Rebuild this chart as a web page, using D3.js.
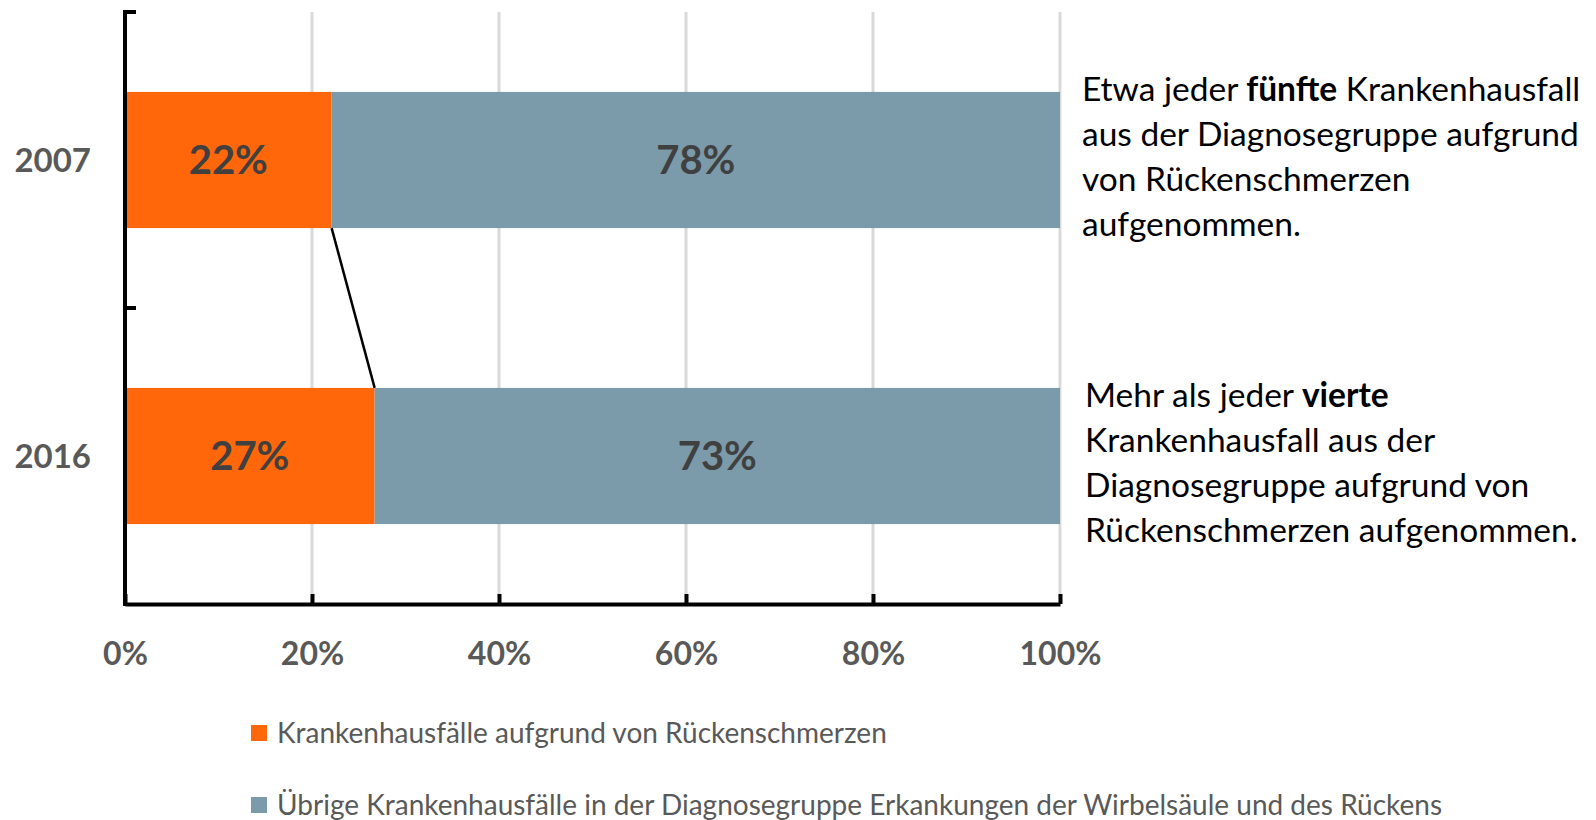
<!DOCTYPE html>
<html>
<head>
<meta charset="utf-8">
<script src="https://cdn.jsdelivr.net/npm/d3@7"></script>
<style>
  body { margin: 0; background: #fff; }
  text { font-family: Lato, "Open Sans", sans-serif; }
</style>
</head>
<body>
<div id="chart"></div>
<script>
// data
var years = ["2007", "2016"];
var backPain = [0.221, 0.267];       // Krankenhausfälle aufgrund von Rückenschmerzen
var otherCases = [0.779, 0.733];     // übrige Fälle
var xTicks = [0, 0.2, 0.4, 0.6, 0.8, 1];
var seriesNames = [
  "Krankenhausfälle aufgrund von Rückenschmerzen",
  "Übrige Krankenhausfälle in der Diagnosegruppe Erkankungen der Wirbelsäule und des Rückens"
];
var notes2007 = [
  [["Etwa jeder ", false], ["fünfte", true], [" Krankenhausfall", false]],
  [["aus der Diagnosegruppe aufgrund", false]],
  [["von Rückenschmerzen", false]],
  [["aufgenommen.", false]]
];
var notes2016 = [
  [["Mehr als jeder ", false], ["vierte", true]],
  [["Krankenhausfall aus der", false]],
  [["Diagnosegruppe aufgrund von", false]],
  [["Rückenschmerzen aufgenommen.", false]]
];

var colors = ["#ff670a", "#7b9aaa"];

var svgWidth = 1596;
var svgHeight = 820;

var svg = d3.select("#chart")
  .append("svg")
  .attr("width", svgWidth)
  .attr("height", svgHeight);

var x = d3.scaleLinear()
  .domain([0, 1])
  .range([125, 1060]);

var pad = 0.54;
var y = d3.scaleBand()
  .domain(years)
  .range([12, 604])
  .paddingInner(pad)
  .paddingOuter(pad / 2);

// gridlines
svg.append("g")
  .selectAll("line")
  .data(xTicks.slice(1))
  .enter()
  .append("line")
  .attr("x1", d => x(d))
  .attr("x2", d => x(d))
  .attr("y1", 12)
  .attr("y2", 604)
  .attr("stroke", "#d9d9d9")
  .attr("stroke-width", 3);

// stacked bars
var rows = years.map((yr, i) => ({ year: yr, vals: [backPain[i], otherCases[i]] }));
var segs = [];
rows.forEach(function(r) {
  var x0 = 0;
  r.vals.forEach(function(v, k) {
    segs.push({ year: r.year, k: k, x0: x0, x1: x0 + v, v: v });
    x0 += v;
  });
});

svg.append("g")
  .selectAll("rect")
  .data(segs)
  .enter()
  .append("rect")
  .attr("x", d => x(d.x0))
  .attr("width", d => x(d.x1) - x(d.x0))
  .attr("y", d => y(d.year))
  .attr("height", y.bandwidth())
  .attr("fill", d => colors[d.k]);

svg.append("g")
  .selectAll("text")
  .data(segs)
  .enter()
  .append("text")
  .attr("x", d => x((d.x0 + d.x1) / 2))
  .attr("y", d => y(d.year) + y.bandwidth() / 2)
  .attr("dy", "0.36em")
  .attr("text-anchor", "middle")
  .attr("font-size", "40px")
  .attr("font-weight", "bold")
  .attr("fill", "#404040")
  .text(d => d3.format(".0%")(d.v));

// connector line between the orange segments
svg.append("line")
  .attr("x1", x(backPain[0]))
  .attr("y1", y(years[0]) + y.bandwidth())
  .attr("x2", x(backPain[1]))
  .attr("y2", y(years[1]))
  .attr("stroke", "#000")
  .attr("stroke-width", 2.5);

// y axis
var boundaries = [12].concat(years.map(d => y(d) + y.bandwidth() + (y.step() - y.bandwidth()) / 2));
svg.append("line")
  .attr("x1", x(0)).attr("x2", x(0))
  .attr("y1", 10).attr("y2", 606)
  .attr("stroke", "#000").attr("stroke-width", 4);
svg.append("g")
  .selectAll("line")
  .data(boundaries.slice(0, -1))
  .enter()
  .append("line")
  .attr("x1", x(0)).attr("x2", x(0) + 11)
  .attr("y1", d => d).attr("y2", d => d)
  .attr("stroke", "#000").attr("stroke-width", 4);

svg.append("g")
  .selectAll("text")
  .data(years)
  .enter()
  .append("text")
  .attr("x", 91)
  .attr("y", d => y(d) + y.bandwidth() / 2)
  .attr("dy", "0.36em")
  .attr("text-anchor", "end")
  .attr("font-size", "33px")
  .attr("font-weight", "bold")
  .attr("fill", "#595959")
  .text(d => d);

// x axis
var xAxis = svg.append("g")
  .attr("transform", "translate(0,604)")
  .call(d3.axisBottom(x)
    .tickValues(xTicks)
    .tickSize(-10)
    .tickSizeOuter(0)
    .tickPadding(38)
    .tickFormat(d3.format(".0%")));
xAxis.select(".domain").attr("stroke", "#000").attr("stroke-width", 4);
xAxis.selectAll(".tick line").attr("stroke", "#000").attr("stroke-width", 4);
xAxis.selectAll(".tick text")
  .attr("font-family", "Lato, sans-serif")
  .attr("font-size", "32px")
  .attr("font-weight", "bold")
  .attr("fill", "#595959");

// annotations
function drawNote(lines, x0, y0) {
  var t = svg.append("text")
    .attr("x", x0)
    .attr("y", y0)
    .attr("font-size", "33.5px")
    .attr("fill", "#000");
  lines.forEach(function(line, i) {
    line.forEach(function(part, j) {
      var ts = t.append("tspan")
        .attr("font-weight", part[1] ? "bold" : "normal")
        .text(part[0]);
      if (j === 0) ts.attr("x", x0).attr("y", y0 + i * 45);
    });
  });
}
drawNote(notes2007, 1082, 101);
drawNote(notes2016, 1085, 407);

// legend
var legend = svg.append("g")
  .selectAll("g")
  .data(seriesNames)
  .enter()
  .append("g")
  .attr("transform", (d, i) => `translate(251, ${733 + i * 72})`);
legend.append("rect")
  .attr("x", 0).attr("y", -8)
  .attr("width", 16).attr("height", 16)
  .attr("fill", (d, i) => colors[i]);
legend.append("text")
  .attr("x", 26)
  .attr("dy", "0.36em")
  .attr("font-size", "28px")
  .attr("fill", "#595959")
  .text(d => d);
</script>
</body>
</html>
